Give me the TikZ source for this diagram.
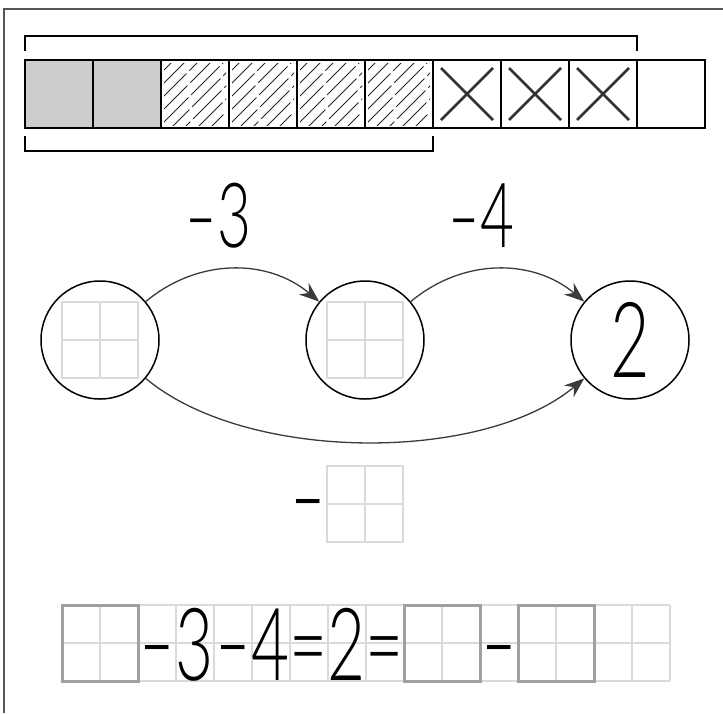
\documentclass[tikz,border=0pt]{standalone}
\usepackage{fontspec}
\usetikzlibrary{arrows.meta}
\newfontfamily\digitfont{Lato}[UprightFont=* Light,FakeStretch=0.65]
\newfontfamily\dashfont{Lato}[UprightFont=* Light]
\definecolor{framegray}{HTML}{555555}
\definecolor{cellgray}{HTML}{CCCCCC}
\definecolor{gridgray}{HTML}{DADADA}
\definecolor{boxgray}{HTML}{A0A0A0}
\definecolor{arrowgray}{HTML}{3A3A3A}
\newcommand\twogrid[3]{%
  \draw[lightgrid] (#1,#2) rectangle ++(2*#3,2*#3)
    (#1+#3,#2) -- ++(0,2*#3) (#1,#2+#3) -- ++(2*#3,0);}
\begin{document}
\begin{tikzpicture}[x=1pt,y=-1pt,
  framestyle/.style={draw=framegray,line width=2pt},
  cell/.style={draw=black,line width=1.5pt,minimum size=68pt,inner sep=0pt},
  hatchline/.style={draw=black!85,line width=1pt,dash pattern=on 40pt off 4pt},
  xmark/.style={draw=black!80,line width=2.5pt},
  bracket/.style={draw=black,line width=1.8pt},
  bubble/.style={circle,draw=black,line width=1.5pt,minimum size=118pt,inner sep=0pt},
  lightgrid/.style={draw=gridgray,line width=1.6pt},
  answerbox/.style={draw=boxgray,line width=3pt,minimum size=76pt,inner sep=0pt},
  arr/.style={draw=arrowgray,line width=1.3pt,-{Stealth[length=20pt,width=15pt]}},
  bigtxt/.style={inner sep=0pt,anchor=base,font=\fontsize{90}{95}\selectfont},
  eqtxt/.style={inner sep=0pt,anchor=base,font=\digitfont\fontsize{101}{110}\selectfont},
  eqdash/.style={inner sep=0pt,anchor=base,font=\dashfont\fontsize{101}{110}\selectfont}
]
\useasboundingbox (0,0) rectangle (723,713);
\draw[framestyle] (4,713) -- (4,9) -- (723,9);

% brackets
\draw[bracket] (25,51) -- (25,36) -- (637,36) -- (637,51);
\draw[bracket] (25,136) -- (25,151) -- (433,151) -- (433,136);

% bar cells
\foreach \i in {0,1}
  \node[cell,fill=cellgray] (c\i) at (59+68*\i,94) {};
\foreach \i in {2,...,5}{
  \begin{scope}
    \clip (28+68*\i,63) rectangle (90+68*\i,125);
    \foreach \k in {0,...,10}
      \draw[hatchline,dash phase={mod(\k*17,44)*1pt}] (25+68*\i-68+13*\k,128) -- ++(68,-68);
  \end{scope}
}
\foreach \i in {2,...,9}
  \node[cell] (c\i) at (59+68*\i,94) {};
\foreach \i in {6,7,8}
  \draw[xmark] (33+68*\i,68) -- (85+68*\i,120) (85+68*\i,68) -- (33+68*\i,120);

% top labels
\node[bigtxt] (lab1) at (218,247) {{\dashfont -}{\digitfont 3}};
\node[bigtxt] (lab2) at (481,247) {{\dashfont -}{\digitfont 4}};

% circles
\node[bubble] (L) at (100,340) {};
\node[bubble] (M) at (365,340) {};
\node[bubble,font=\digitfont\fontsize{105}{110}\selectfont] (R) at (630,340) {2};
\twogrid{62}{302}{38}
\twogrid{327}{302}{38}

\draw[arr] (L) to[bend left=40] (M);
\draw[arr] (M) to[bend left=40] (R);
\draw[arr] (L) to[bend right=40,looseness=0.77] (R);

% middle
\node[eqdash] (mm) at (308,531) {-};
\twogrid{327}{466}{38}

% bottom equation grid
\foreach \k in {0,...,16}
  \draw[lightgrid] (62+38*\k,605) -- (62+38*\k,681);
\foreach \r in {605,643,681}
  \draw[lightgrid] (62,\r) -- (670,\r);
\node[answerbox] (b1) at (100,643) {};
\node[answerbox] (b2) at (442,643) {};
\node[answerbox] (b3) at (556,643) {};
\node[eqdash] (e1) at (157,677) {-};
\node[eqtxt] (e2) at (195,680) {3};
\node[eqdash] (e3) at (233,677) {-};
\node[eqtxt] (e4) at (271,680) {4};
\node[eqtxt] (e5) at (309,680) {=};
\node[eqtxt] (e6) at (347,680) {2};
\node[eqtxt] (e7) at (385,680) {=};
\node[eqdash] (e8) at (499,677) {-};
\end{tikzpicture}
\end{document}
